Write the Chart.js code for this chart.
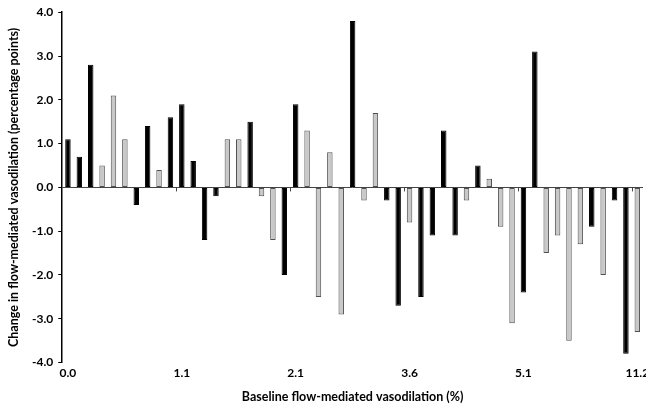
<!DOCTYPE html>
<html>
<head>
<meta charset="utf-8">
<script src="https://cdn.jsdelivr.net/npm/chart.js@4/dist/chart.umd.min.js"></script>
<style>
  html, body { margin: 0; padding: 0; background: #fff; }
  #wrap { width: 646px; height: 404px; }
</style>
</head>
<body>
<div id="wrap"><canvas id="fmd"></canvas></div>
<script>
// change in FMD per subject, ordered by baseline FMD
var changes = [1.1, 0.7, 2.8, 0.5, 2.1, 1.1, -0.4, 1.4, 0.4, 1.6,
               1.9, 0.6, -1.2, -0.2, 1.1, 1.1, 1.5, -0.2, -1.2, -2.0,
               1.9, 1.3, -2.5, 0.8, -2.9, 3.8, -0.3, 1.7, -0.3, -2.7,
               -0.8, -2.5, -1.1, 1.3, -1.1, -0.3, 0.5, 0.2, -0.9, -3.1,
               -2.4, 3.1, -1.5, -1.1, -3.5, -1.3, -0.9, -2.0, -0.3, -3.8, -3.3];
// 1 = black bar, 0 = grey bar
var group = [1, 1, 1, 0, 0, 0, 1, 1, 0, 1,
             1, 1, 1, 1, 0, 0, 1, 0, 0, 1,
             1, 0, 0, 0, 0, 1, 0, 0, 1, 1,
             0, 1, 1, 1, 1, 0, 1, 0, 0, 0,
             1, 1, 0, 0, 0, 0, 1, 0, 1, 1, 0];
var tickLabels = ['0.0', '1.1', '2.1', '3.6', '5.1', '11.2'];
var categories = changes.map(function (v, i) { return i; });

var font = "Lato, 'Open Sans', sans-serif";

// small tick marks on the zero line every 10 bars
var zeroTicks = {
    id: 'zeroTicks',
    afterDatasetsDraw: function (chart) {
        var x = chart.scales.x, y = chart.scales.y, c = chart.ctx;
        var y0 = y.getPixelForValue(0);
        var half = (x.getPixelForValue(1) - x.getPixelForValue(0)) / 2;
        c.save();
        c.strokeStyle = '#444';
        c.lineWidth = 1;
        for (var i = 10; i <= categories.length; i += 10) {
            var px = Math.round(x.getPixelForValue(i) - half) + 0.5;
            c.beginPath();
            c.moveTo(px, y0);
            c.lineTo(px, y0 + 4);
            c.stroke();
        }
        c.restore();
    }
};

var ctx = document.getElementById('fmd').getContext('2d');
var chart = new Chart(ctx, {
    type: 'bar',
    data: {
        labels: categories,
        datasets: [{
            data: changes,
            backgroundColor: group.map(function (g) { return g ? '#000000' : '#c8c8c8'; }),
            borderColor: group.map(function (g) { return g ? '#000000' : '#505050'; }),
            borderWidth: 1,
            borderSkipped: false,
            barPercentage: 0.48,
            categoryPercentage: 1.0
        }]
    },
    options: {
        responsive: true,
        maintainAspectRatio: false,
        animation: false,
        layout: { padding: { top: 5, right: 3, left: 6, bottom: 0 } },
        plugins: {
            legend: { display: false },
            tooltip: { enabled: false }
        },
        scales: {
            x: {
                grid: { display: false },
                border: { display: false },
                ticks: {
                    autoSkip: false,
                    maxRotation: 0,
                    padding: -5,
                    color: '#000',
                    font: { family: font, size: 12, weight: 'bold' },
                    callback: function (v, i) {
                        return i % 10 === 0 ? tickLabels[i / 10] : '';
                    }
                },
                title: {
                    display: true,
                    text: 'Baseline flow-mediated vasodilation (%)',
                    color: '#000',
                    padding: { top: 14, bottom: 0 },
                    font: { family: font, size: 12.5, weight: 'bold' }
                }
            },
            y: {
                min: -4,
                max: 4,
                ticks: {
                    stepSize: 1,
                    padding: 5,
                    color: '#000',
                    font: { family: font, size: 12, weight: 'bold' },
                    callback: function (v) { return v.toFixed(1); }
                },
                grid: {
                    drawOnChartArea: true,
                    drawTicks: true,
                    tickLength: 4,
                    tickColor: '#000',
                    color: function (c) { return c.tick && c.tick.value === 0 ? '#444' : 'rgba(0,0,0,0)'; },
                    lineWidth: 1
                },
                border: { display: true, color: '#000', width: 1.5 },
                title: {
                    display: true,
                    text: 'Change in flow-mediated vasodilation (percentage points)',
                    color: '#000',
                    padding: { top: 0, bottom: 6 },
                    font: { family: font, size: 12.5, weight: 'bold' }
                }
            }
        }
    },
    plugins: [zeroTicks]
});
</script>
</body>
</html>
